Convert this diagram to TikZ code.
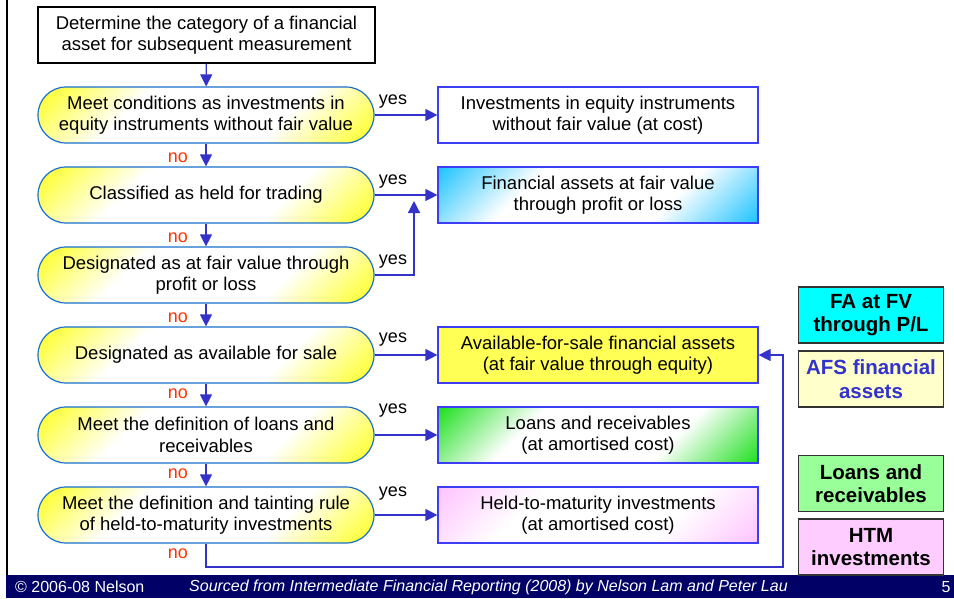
\documentclass[tikz,border=0pt]{standalone}
\usepackage{fontspec}
\setmainfont{Liberation Sans}
\usetikzlibrary{arrows.meta}
\definecolor{arrblue}{HTML}{3333CC}
\definecolor{decborder}{HTML}{1A6FCC}
\definecolor{resborder}{HTML}{3D3DF5}
\definecolor{noRed}{HTML}{FF3300}
\definecolor{footnavy}{HTML}{000066}
\definecolor{yel}{HTML}{FFFF22}
\definecolor{cyanA}{HTML}{22C4FF}
\definecolor{greenA}{HTML}{22E022}
\definecolor{pinkA}{HTML}{FFC4FF}
\definecolor{afsY}{HTML}{FFFF55}
\definecolor{legCyan}{HTML}{00FFFF}
\definecolor{legY}{HTML}{FFFFCC}
\definecolor{legG}{HTML}{99FF99}
\definecolor{legP}{HTML}{FFCCFF}
\pgfdeclareverticalshading{diagY}{100bp}{color(0bp)=(yel); color(15bp)=(yel); color(35bp)=(white); color(65bp)=(white); color(85bp)=(yel); color(100bp)=(yel)}
\pgfdeclareverticalshading{diagC}{100bp}{color(0bp)=(cyanA); color(15bp)=(cyanA); color(35bp)=(white); color(65bp)=(white); color(85bp)=(cyanA); color(100bp)=(cyanA)}
\pgfdeclareverticalshading{diagG}{100bp}{color(0bp)=(greenA); color(15bp)=(greenA); color(35bp)=(white); color(65bp)=(white); color(85bp)=(greenA); color(100bp)=(greenA)}
\pgfdeclareverticalshading{diagP}{100bp}{color(0bp)=(pinkA); color(15bp)=(pinkA); color(35bp)=(white); color(65bp)=(white); color(85bp)=(pinkA); color(100bp)=(pinkA)}
\tikzset{
  base/.style={font=\fontsize{18.5}{21.3}\selectfont, align=center, inner sep=0pt},
  startbox/.style={base, draw=black, line width=1.3pt, fill=white, minimum width=337pt, minimum height=56pt},
  decision/.style={base, draw=decborder, line width=1.2pt, minimum width=336pt, minimum height=56pt,
     rounded corners=28pt, shading=diagY, shading angle=45},
  result/.style={base, draw=resborder, line width=1.2pt, minimum width=320pt, minimum height=56pt},
  legend/.style={font=\fontsize{20.5}{23.5}\selectfont\bfseries, align=center, inner sep=0pt,
     draw=black!80, line width=1.6pt, minimum width=145pt, minimum height=56pt},
  arr/.style={draw=arrblue, line width=1.2pt, -{Triangle[length=12pt,width=12pt]}},
  yeslab/.style={font=\fontsize{18}{20}\selectfont, text=black, inner sep=0pt},
  nolab/.style={font=\fontsize{18}{20}\selectfont, text=noRed, inner sep=0pt},
}
\begin{document}
\begin{tikzpicture}[x=1pt,y=-1pt]
\useasboundingbox (0,0) rectangle (954,598);
\fill[white] (0,0) rectangle (954,598);
% frame and footer
\draw[black, line width=2pt] (7,0) -- (7,576);
\fill[footnavy] (6,575) rectangle (954,598);
\node[font=\fontsize{16}{18}\selectfont, text=white, anchor=west, inner sep=0pt] (f1) at (15,587) {© 2006-08 Nelson};
\node[font=\fontsize{16}{18}\selectfont\itshape, text=white, anchor=west, inner sep=0pt] (f2) at (189,587) {Sourced from Intermediate Financial Reporting (2008) by Nelson Lam and Peter Lau};
\node[font=\fontsize{16}{18}\selectfont, text=white, inner sep=0pt] (f3) at (946,587) {5};
% start
\node[startbox] (s) at (206.5,35) {Determine the category of a financial\\asset for subsequent measurement};
% decisions
\node[decision] (d1) at (206,115) {Meet conditions as investments in\\equity instruments without fair value};
\node[decision] (d2) at (206,195) {Classified as held for trading};
\node[decision] (d3) at (206,275) {Designated as at fair value through\\profit or loss};
\node[decision] (d4) at (206,355) {Designated as available for sale};
\node[decision] (d5) at (206,435) {Meet the definition of loans and\\receivables};
\node[decision] (d6) at (206,515) {Meet the definition and tainting rule\\of held-to-maturity investments};
% results
\node[result, fill=white] (r1) at (598,115) {Investments in equity instruments\\without fair value (at cost)};
\node[result, shading=diagC, shading angle=45] (r2) at (598,195) {Financial assets at fair value\\through profit or loss};
\node[result, fill=afsY] (r3) at (598,355) {Available-for-sale financial assets\\(at fair value through equity)};
\node[result, shading=diagG, shading angle=45] (r4) at (598,435) {Loans and receivables\\(at amortised cost)};
\node[result, shading=diagP, shading angle=45] (r5) at (598,515) {Held-to-maturity investments\\(at amortised cost)};
% legend
\node[legend, fill=legCyan] (l1) at (871,315) {FA at FV\\through P/L};
\node[legend, fill=legY, text=arrblue] (l2) at (871,379) {AFS financial\\assets};
\node[legend, fill=legG] (l3) at (871,483.5) {Loans and\\receivables};
\node[legend, fill=legP] (l4) at (871,547) {HTM\\investments};
% vertical arrows
\draw[arr] (s) -- (d1);
\draw[arr] (d1) -- (d2);
\draw[arr] (d2) -- (d3);
\draw[arr] (d3) -- (d4);
\draw[arr] (d4) -- (d5);
\draw[arr] (d5) -- (d6);
% yes arrows
\draw[arr] (d1) -- (r1);
\draw[arr] (d2) -- (r2);
\coordinate (j3) at (414,201);
\draw[arr] (d3.east) -| (j3);
\draw[arr] (d4) -- (r3);
\draw[arr] (d5) -- (r4);
\draw[arr] (d6) -- (r5);
% last no
\coordinate (b1) at (206,567);
\coordinate (b2) at (783,567);
\coordinate (b3) at (783,355);
\draw[arr] (d6.south) -- (b1) -- (b2) -- (b3) -- (r3.east);
% labels
\node[yeslab] (y1) at (393,102) {yes};
\node[yeslab] (y2) at (393,182) {yes};
\node[yeslab] (y3) at (393,262) {yes};
\node[yeslab] (y4) at (393,340) {yes};
\node[yeslab] (y5) at (393,411) {yes};
\node[yeslab] (y6) at (393,494) {yes};
\node[nolab] (n1) at (178,158) {no};
\node[nolab] (n2) at (178,238) {no};
\node[nolab] (n3) at (178,318) {no};
\node[nolab] (n4) at (178,394) {no};
\node[nolab] (n5) at (178,474) {no};
\node[nolab] (n6) at (178,554) {no};
\end{tikzpicture}
\end{document}
